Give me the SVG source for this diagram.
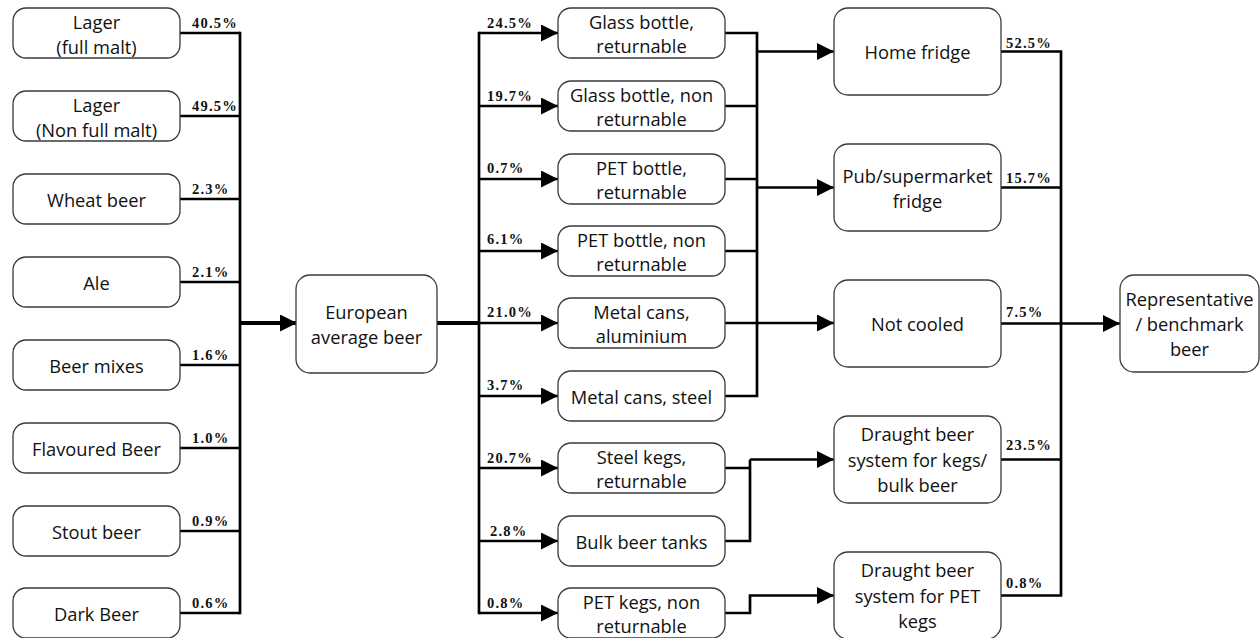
<svg xmlns="http://www.w3.org/2000/svg" width="1260" height="638" viewBox="0 0 1260 638">
  <style>
    .box { fill: #ffffff; stroke: #3a3a3a; stroke-width: 1.3; }
    .lbl { font-family: "Open Sans", Lato, sans-serif; font-size: 18.3px; fill: #111; text-anchor: middle; dominant-baseline: central; }
    .pct { font-family: "Liberation Serif", "Times New Roman", serif; font-size: 14.5px; font-weight: bold; fill: #111; letter-spacing: 1.2px; }
    .ln { fill: none; stroke: #000; stroke-width: 2.7; stroke-linejoin: miter; }
    .thick { fill: none; stroke: #000; stroke-width: 4; }
  </style>
  <defs>
    <marker id="arr" markerUnits="userSpaceOnUse" markerWidth="18" markerHeight="18" refX="17" refY="8.5" orient="auto">
      <path d="M0,0 L17,8.5 L0,17 z" fill="#000"/>
    </marker>
  </defs>
  <rect width="1260" height="638" fill="#ffffff"/>

  <!-- connectors -->
  <g id="connectors">
    <!-- beer types into the left bus -->
    <path class="ln" d="M180,33 H240 M180,116 H240 M180,199 H240 M180,282 H240 M180,365 H240 M180,448 H240 M180,531 H240 M180,613 H240"/>
    <path class="ln" d="M240,31.7 V614.3" stroke-width="3"/>
    <path class="thick" d="M240,323 H297" marker-end="url(#arr)"/>
    <!-- European average into the packaging bus -->
    <path class="thick" d="M437,323 H480"/>
    <path class="ln" d="M479,31.7 V614.3" stroke-width="3"/>
    <path class="ln" d="M479,33 H558" marker-end="url(#arr)"/>
    <path class="ln" d="M479,106 H558" marker-end="url(#arr)"/>
    <path class="ln" d="M479,179 H558" marker-end="url(#arr)"/>
    <path class="ln" d="M479,251 H558" marker-end="url(#arr)"/>
    <path class="ln" d="M479,323 H558" marker-end="url(#arr)"/>
    <path class="ln" d="M479,396 H558" marker-end="url(#arr)"/>
    <path class="ln" d="M479,468 H558" marker-end="url(#arr)"/>
    <path class="ln" d="M479,541 H558" marker-end="url(#arr)"/>
    <path class="ln" d="M479,613 H558" marker-end="url(#arr)"/>
    <!-- bottles and cans into the cooling bus -->
    <path class="ln" d="M725,33 H757 V396 H725 M725,106 H757 M725,179 H757 M725,251 H757"/>
    <path class="ln" d="M725,323 H834" marker-end="url(#arr)"/>
    <path class="ln" d="M757,51.5 H834" marker-end="url(#arr)"/>
    <path class="ln" d="M757,187.5 H834" marker-end="url(#arr)"/>
    <!-- kegs and tanks -->
    <path class="ln" d="M725,468 H750 M725,541 H750 V459.5"/>
    <path class="ln" d="M750,459.5 H834" marker-end="url(#arr)"/>
    <path class="ln" d="M725,613 H750 V595.5 H834" marker-end="url(#arr)"/>
    <!-- cooling options into the final bus -->
    <path class="ln" d="M1001,51.5 H1061 V595.5 H1001 M1001,187.5 H1061 M1001,459.5 H1061"/>
    <path class="ln" d="M1001,323.5 H1120" marker-end="url(#arr)"/>
  </g>

  <!-- shares -->
  <g id="shares">
    <text class="pct" x="192" y="28">40.5%</text>
    <text class="pct" x="192" y="111">49.5%</text>
    <text class="pct" x="192" y="194">2.3%</text>
    <text class="pct" x="192" y="277">2.1%</text>
    <text class="pct" x="192" y="360">1.6%</text>
    <text class="pct" x="192" y="443">1.0%</text>
    <text class="pct" x="192" y="526">0.9%</text>
    <text class="pct" x="192" y="608">0.6%</text>

    <text class="pct" x="487" y="28">24.5%</text>
    <text class="pct" x="487" y="101">19.7%</text>
    <text class="pct" x="487" y="173">0.7%</text>
    <text class="pct" x="487" y="244">6.1%</text>
    <text class="pct" x="487" y="317">21.0%</text>
    <text class="pct" x="487" y="390">3.7%</text>
    <text class="pct" x="487" y="463">20.7%</text>
    <text class="pct" x="490" y="536">2.8%</text>
    <text class="pct" x="487" y="608">0.8%</text>

    <text class="pct" x="1006" y="48">52.5%</text>
    <text class="pct" x="1006" y="183">15.7%</text>
    <text class="pct" x="1006" y="317">7.5%</text>
    <text class="pct" x="1006" y="450">23.5%</text>
    <text class="pct" x="1006" y="588">0.8%</text>
  </g>

  <!-- beer types -->
  <g id="lager-full">
    <rect class="box" x="13" y="8" width="167" height="50" rx="13"/>
    <text class="lbl" x="96.5" y="21">Lager</text>
    <text class="lbl" x="96.5" y="46">(full malt)</text>
  </g>
  <g id="lager-non-full">
    <rect class="box" x="13" y="91" width="167" height="50" rx="13"/>
    <text class="lbl" x="96.5" y="104">Lager</text>
    <text class="lbl" x="96.5" y="129">(Non full malt)</text>
  </g>
  <g id="wheat">
    <rect class="box" x="13" y="174" width="167" height="50" rx="13"/>
    <text class="lbl" x="96.5" y="199">Wheat beer</text>
  </g>
  <g id="ale">
    <rect class="box" x="13" y="257" width="167" height="50" rx="13"/>
    <text class="lbl" x="96.5" y="282">Ale</text>
  </g>
  <g id="mixes">
    <rect class="box" x="13" y="340" width="167" height="50" rx="13"/>
    <text class="lbl" x="96.5" y="365">Beer mixes</text>
  </g>
  <g id="flavoured">
    <rect class="box" x="13" y="423" width="167" height="50" rx="13"/>
    <text class="lbl" x="96.5" y="448">Flavoured Beer</text>
  </g>
  <g id="stout">
    <rect class="box" x="13" y="506" width="167" height="50" rx="13"/>
    <text class="lbl" x="96.5" y="531">Stout beer</text>
  </g>
  <g id="dark">
    <rect class="box" x="13" y="588" width="167" height="50" rx="13"/>
    <text class="lbl" x="96.5" y="613">Dark Beer</text>
  </g>

  <!-- average -->
  <g id="european">
    <rect class="box" x="296" y="275" width="141" height="98" rx="14"/>
    <text class="lbl" x="366.5" y="311">European</text>
    <text class="lbl" x="366.5" y="336">average beer</text>
  </g>

  <!-- packaging -->
  <g id="glass-ret">
    <rect class="box" x="558" y="8" width="167" height="50" rx="13"/>
    <text class="lbl" x="641.5" y="21">Glass bottle,</text>
    <text class="lbl" x="641.5" y="45">returnable</text>
  </g>
  <g id="glass-nonret">
    <rect class="box" x="558" y="81" width="167" height="50" rx="13"/>
    <text class="lbl" x="641.5" y="94">Glass bottle, non</text>
    <text class="lbl" x="641.5" y="118">returnable</text>
  </g>
  <g id="pet-ret">
    <rect class="box" x="558" y="154" width="167" height="50" rx="13"/>
    <text class="lbl" x="641.5" y="167">PET bottle,</text>
    <text class="lbl" x="641.5" y="191">returnable</text>
  </g>
  <g id="pet-nonret">
    <rect class="box" x="558" y="226" width="167" height="50" rx="13"/>
    <text class="lbl" x="641.5" y="239">PET bottle, non</text>
    <text class="lbl" x="641.5" y="263">returnable</text>
  </g>
  <g id="cans-alu">
    <rect class="box" x="558" y="298" width="167" height="50" rx="13"/>
    <text class="lbl" x="641.5" y="311">Metal cans,</text>
    <text class="lbl" x="641.5" y="335">aluminium</text>
  </g>
  <g id="cans-steel">
    <rect class="box" x="558" y="371" width="167" height="50" rx="13"/>
    <text class="lbl" x="641.5" y="396">Metal cans, steel</text>
  </g>
  <g id="steel-kegs">
    <rect class="box" x="558" y="443" width="167" height="50" rx="13"/>
    <text class="lbl" x="641.5" y="456">Steel kegs,</text>
    <text class="lbl" x="641.5" y="480">returnable</text>
  </g>
  <g id="bulk-tanks">
    <rect class="box" x="558" y="516" width="167" height="50" rx="13"/>
    <text class="lbl" x="641.5" y="541">Bulk beer tanks</text>
  </g>
  <g id="pet-kegs">
    <rect class="box" x="558" y="588" width="167" height="50" rx="13"/>
    <text class="lbl" x="641.5" y="601">PET kegs, non</text>
    <text class="lbl" x="641.5" y="625">returnable</text>
  </g>

  <!-- cooling -->
  <g id="home-fridge">
    <rect class="box" x="834" y="8" width="167" height="87" rx="14"/>
    <text class="lbl" x="917.5" y="51.5">Home fridge</text>
  </g>
  <g id="pub-fridge">
    <rect class="box" x="834" y="144" width="167" height="87" rx="14"/>
    <text class="lbl" x="917.5" y="175">Pub/supermarket</text>
    <text class="lbl" x="917.5" y="200">fridge</text>
  </g>
  <g id="not-cooled">
    <rect class="box" x="834" y="280" width="167" height="87" rx="14"/>
    <text class="lbl" x="917.5" y="323.5">Not cooled</text>
  </g>
  <g id="draught-kegs">
    <rect class="box" x="834" y="416" width="167" height="87" rx="14"/>
    <text class="lbl" x="917.5" y="433.5">Draught beer</text>
    <text class="lbl" x="917.5" y="459">system for kegs/</text>
    <text class="lbl" x="917.5" y="484.5">bulk beer</text>
  </g>
  <g id="draught-pet">
    <rect class="box" x="834" y="552" width="167" height="87" rx="14"/>
    <text class="lbl" x="917.5" y="569.5">Draught beer</text>
    <text class="lbl" x="917.5" y="595">system for PET</text>
    <text class="lbl" x="917.5" y="620.5">kegs</text>
  </g>

  <!-- result -->
  <g id="representative">
    <rect class="box" x="1120" y="275" width="139" height="97" rx="14"/>
    <text class="lbl" x="1189.5" y="298">Representative</text>
    <text class="lbl" x="1189.5" y="323">/ benchmark</text>
    <text class="lbl" x="1189.5" y="348">beer</text>
  </g>
</svg>
